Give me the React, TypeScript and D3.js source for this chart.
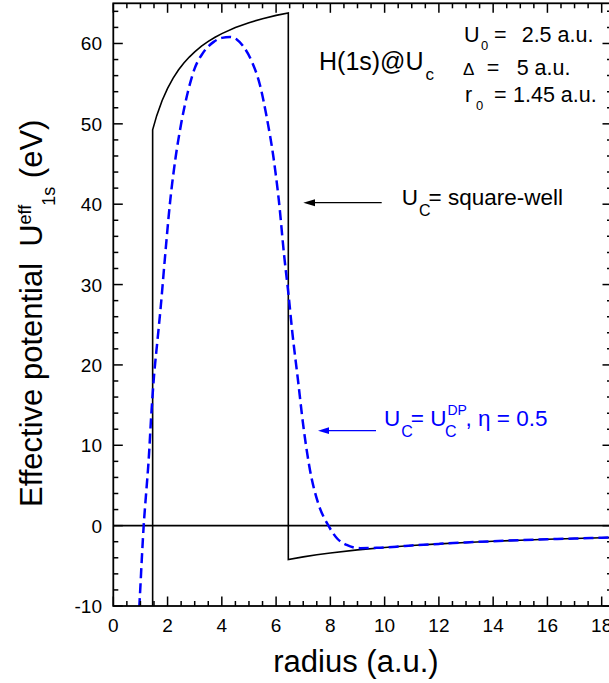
import React from "react";
import * as d3 from "d3";

// Square-well effective potential (solid black), r in a.u., U in eV
const swR = [1.45, 1.45, 1.6, 1.8, 2.0, 2.2, 2.4, 2.6, 2.8, 3.0, 3.25, 3.5, 3.75, 4.0, 4.5, 5.0, 5.5, 6.0, 6.45, 6.45, 7.0, 7.5, 8.0, 9.0, 10.0, 11.0, 12.0, 13.0, 14.0, 15.0, 16.0, 17.0, 18.0, 18.4];
const swU = [-18.8, 49.26, 51.02, 52.91, 54.42, 55.66, 56.69, 57.56, 58.31, 58.96, 59.66, 60.26, 60.77, 61.23, 61.98, 62.59, 63.08, 63.5, 63.81, -4.22, -3.89, -3.63, -3.4, -3.02, -2.72, -2.47, -2.27, -2.09, -1.94, -1.81, -1.7, -1.6, -1.51, -1.48];

// Debye-plasma-like confinement (blue dashed), eta = 0.5
const dpR = [0.9, 0.96, 1.0, 1.05, 1.12, 1.2, 1.3, 1.4, 1.5, 1.62, 1.75, 1.9, 2.1, 2.3, 2.5, 2.75, 3.0, 3.3, 3.7, 4.0, 4.3, 4.55, 4.8, 5.1, 5.4, 5.65, 5.9, 6.1, 6.3, 6.45, 6.6, 6.8, 7.0, 7.25, 7.55, 7.93, 8.25, 8.6, 9.1, 9.7, 10.5, 11.0, 12.0, 13.0, 14.0, 15.0, 16.0, 17.0, 18.0, 18.4];
const dpU = [-14.0, -10.0, -7.5, -4.2, 0.0, 3.6, 8.0, 13.8, 18.6, 22.8, 27.3, 33.2, 40.5, 45.9, 50.0, 54.0, 56.9, 58.8, 60.2, 60.7, 60.8, 60.5, 59.6, 57.8, 54.9, 50.9, 45.9, 40.5, 33.5, 29.0, 24.0, 18.3, 12.5, 6.9, 2.8, 0.0, -1.6, -2.4, -2.8, -2.76, -2.6, -2.47, -2.27, -2.09, -1.94, -1.81, -1.7, -1.6, -1.51, -1.48];

const xTicks = [0, 2, 4, 6, 8, 10, 12, 14, 16, 18];
const yTicks = [-10, 0, 10, 20, 30, 40, 50, 60];

const FONT = "'Liberation Sans', Arial, Helvetica, sans-serif";

export default function App() {
  const left = 113.3, right = 612, top = 3.3, bottom = 606;
  const x = d3.scaleLinear().domain([0, 18.38]).range([left, right]);
  const y = d3.scaleLinear().domain([-10, 65]).range([bottom, top]);

  const swLine = d3.line<number>().x((_, i) => x(swR[i])).y((_, i) => y(swU[i])).curve(d3.curveLinear);
  const dpLine = d3.line<number>().x((_, i) => x(dpR[i])).y((_, i) => y(dpU[i])).curve(d3.curveMonotoneX);

  const xMinor = d3.range(0, 18.4, 0.5).filter((v) => Math.abs(v / 2 - Math.round(v / 2)) > 1e-6);
  const yMinor = d3.range(-10, 65, 2).filter((v) => v % 10 !== 0);

  const majLen = 9.5, minLen = 5;
  const axisW = 1.8;

  return (
    <svg width={609} height={683} style={{ position: "absolute", left: 0, top: 0 }} fontFamily={FONT}>
      <defs>
        <clipPath id="plotclip">
          <rect x={left} y={top} width={right - left} height={bottom - top} />
        </clipPath>
      </defs>
      <rect x={0} y={0} width={609} height={683} fill="#fff" />

      {/* zero line */}
      <line x1={left} x2={right} y1={y(0)} y2={y(0)} stroke="#000" strokeWidth={1.8} />

      <g clipPath="url(#plotclip)">
        <path d={swLine(swR) || ""} fill="none" stroke="#000" strokeWidth={1.6} />
        <path d={dpLine(dpR) || ""} fill="none" stroke="#0000ff" strokeWidth={2.5} strokeDasharray="10,5" />
      </g>

      {/* frame */}
      <rect x={left} y={top} width={right - left} height={bottom - top} fill="none" stroke="#000" strokeWidth={axisW} />

      {/* x ticks bottom & top */}
      {xTicks.map((t) => (
        <g key={"xt" + t}>
          <line x1={x(t)} x2={x(t)} y1={bottom} y2={bottom - majLen} stroke="#000" strokeWidth={1.5} />
          <line x1={x(t)} x2={x(t)} y1={top} y2={top + majLen} stroke="#000" strokeWidth={1.5} />
          <text x={x(t)} y={631.7} fontSize={19} textAnchor="middle">{t}</text>
        </g>
      ))}
      {xMinor.map((t) => (
        <g key={"xm" + t}>
          <line x1={x(t)} x2={x(t)} y1={bottom} y2={bottom - minLen} stroke="#000" strokeWidth={1.5} />
          <line x1={x(t)} x2={x(t)} y1={top} y2={top + minLen} stroke="#000" strokeWidth={1.5} />
        </g>
      ))}

      {/* y ticks left & right */}
      {yTicks.map((t) => (
        <g key={"yt" + t}>
          <line x1={left} x2={left + majLen} y1={y(t)} y2={y(t)} stroke="#000" strokeWidth={1.5} />
          <line x1={right} x2={right - majLen} y1={y(t)} y2={y(t)} stroke="#000" strokeWidth={1.5} />
          <text x={102} y={y(t) + 7} fontSize={19} textAnchor="end">{t}</text>
        </g>
      ))}
      {yMinor.map((t) => (
        <g key={"ym" + t}>
          <line x1={left} x2={left + minLen} y1={y(t)} y2={y(t)} stroke="#000" strokeWidth={1.5} />
          <line x1={right} x2={right - minLen} y1={y(t)} y2={y(t)} stroke="#000" strokeWidth={1.5} />
        </g>
      ))}

      {/* axis titles */}
      <text x={356} y={671.7} fontSize={31} textAnchor="middle">radius (a.u.)</text>
      <text transform="translate(42,507) rotate(-90)" fontSize={31}>
        <tspan>Effective potential</tspan>
        <tspan dx={16}>U</tspan>
        <tspan fontSize={18} dy={-11}>eff</tspan>
        <tspan fontSize={18} dy={24} dx={-1}>1s</tspan>
        <tspan dy={-13}> (eV)</tspan>
      </text>

      {/* annotations */}
      <text x={319} y={70} fontSize={25}>
        <tspan>H(1s)@U</tspan>
        <tspan fontSize={17} dy={10} dx={2}>c</tspan>
      </text>

      <text x={464} y={41.7} fontSize={21.5}>U</text>
      <text x={481} y={49.5} fontSize={13}>0</text>
      <text x={494} y={41.7} fontSize={21.5}>=</text>
      <text x={521.7} y={41.7} fontSize={21.5}>2.5 a.u.</text>

      <text x={463} y={75} fontSize={17}>Δ</text>
      <text x={486.7} y={75} fontSize={21.5}>=</text>
      <text x={516.7} y={75} fontSize={21.5}>5 a.u.</text>

      <text x={465} y={101.7} fontSize={21.5}>r</text>
      <text x={476} y={109.5} fontSize={13}>0</text>
      <text x={494} y={101.7} fontSize={21.5}>=</text>
      <text x={513} y={101.7} fontSize={21.5}>1.45 a.u.</text>

      {/* square-well arrow */}
      <line x1={381.7} x2={312} y1={202.7} y2={202.7} stroke="#000" strokeWidth={1.2} />
      <path d={`M303.3,202.7 L315,199.2 L315,206.2 Z`} fill="#000" />
      <text x={401.7} y={205} fontSize={22.5}>
        <tspan>U</tspan>
        <tspan fontSize={16} dy={11} dx={1}>C</tspan>
        <tspan dy={-11} dx={-2}>= square-well</tspan>
      </text>

      {/* DP arrow */}
      <line x1={376} x2={326} y1={430.7} y2={430.7} stroke="#0000ff" strokeWidth={1.2} />
      <path d={`M318,430.7 L329,427.3 L329,434.1 Z`} fill="#0000ff" />
      <text x={384} y={426} fontSize={22.5} fill="#0000ff">
        <tspan>U</tspan>
        <tspan fontSize={16} dy={11} dx={1}>C</tspan>
        <tspan dy={-11} dx={-2}>= U</tspan>
        <tspan fontSize={14} dy={-11} dx={1}>DP</tspan>
        <tspan fontSize={16} dy={22} dx={-22}>C</tspan>
        <tspan dy={-11} dx={9}>, η = 0.5</tspan>
      </text>
    </svg>
  );
}
